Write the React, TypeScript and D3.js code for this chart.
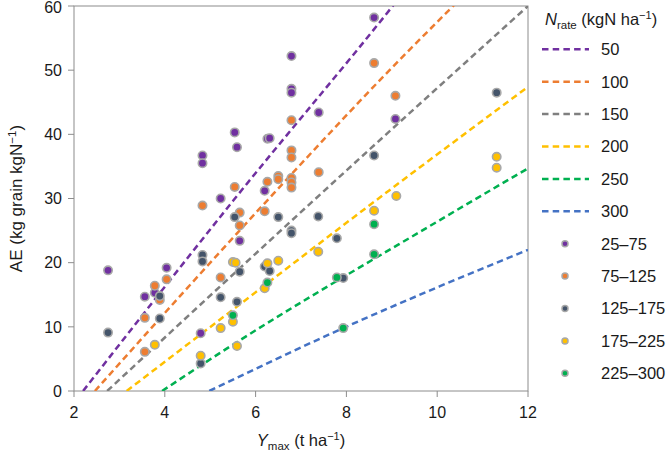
import { useEffect } from 'react'
import * as d3 from 'd3'

// dashed response lines, one per N rate (kgN/ha): [Ymax, AE]
const lineRates = ['50', '100', '150', '200', '250', '300']
const lineColors = ['#7030A0', '#ED7D31', '#7F7F7F', '#FFC000', '#00B050', '#4472C4']
const line50: [number, number][] = [[2.2, 0], [5.5, 29.6], [9.02, 60], [9.3, 62.5]]
const line100: [number, number][] = [[2.46, 0], [6.27, 29.8], [9.17, 51.6], [10.35, 60], [10.6, 61.8]]
const line150: [number, number][] = [[2.73, 0], [6.97, 27.7], [12, 60]]
const line200: [number, number][] = [[3.16, 0], [5.21, 11.1], [8.95, 31.3], [12, 47.4]]
const line250: [number, number][] = [[3.94, 0], [5.21, 5.9], [10.05, 26.6], [12, 34.7]]
const line300: [number, number][] = [[4.98, 0], [7.93, 9.8], [10.05, 16.3], [12, 22.0]]
const lineData = [line50, line100, line150, line200, line250, line300]

// observed sites grouped by N rate class
const pointClasses = ['25–75', '75–125', '125–175', '175–225', '225–300']
const pointColors = ['#7030A0', '#ED7D31', '#44546A', '#FFC000', '#00B050']
const pts25: [number, number][] = [
  [8.61, 58.2], [6.79, 52.2], [6.79, 47.1], [6.79, 46.5], [9.08, 42.4], [7.39, 43.4],
  [5.54, 40.3], [5.59, 38.0], [6.26, 39.3], [6.31, 39.4], [4.83, 36.7], [4.83, 35.5],
  [5.23, 30.0], [6.2, 31.2], [5.65, 23.4], [2.75, 18.8], [4.04, 19.2], [3.56, 14.7],
  [3.78, 15.3], [4.79, 9.0],
]
const pts75: [number, number][] = [
  [8.61, 51.1], [9.08, 46.0], [6.79, 42.2], [6.79, 37.5], [6.79, 36.4], [7.39, 34.1],
  [6.5, 33.5], [6.5, 33.0], [6.26, 32.6], [6.79, 33.2], [6.79, 32.5], [6.79, 31.7],
  [5.54, 31.8], [4.83, 28.9], [5.65, 27.8], [6.2, 28.0], [5.65, 25.8], [5.23, 17.7],
  [4.04, 17.4], [3.78, 16.4], [3.89, 14.2], [3.56, 11.4], [3.56, 6.1],
]
const pts125: [number, number][] = [
  [11.31, 46.5], [8.61, 36.7], [5.54, 27.1], [6.5, 27.1], [7.38, 27.2], [6.79, 25.0],
  [6.79, 24.6], [7.79, 23.8], [4.83, 21.2], [4.83, 20.2], [5.65, 18.6], [6.2, 19.4],
  [6.31, 18.7], [7.93, 17.6], [5.23, 14.6], [5.59, 13.9], [3.89, 14.8], [3.89, 11.3],
  [2.75, 9.1], [4.79, 4.3],
]
const pts175: [number, number][] = [
  [11.31, 36.5], [11.31, 34.8], [9.1, 30.4], [8.61, 28.1], [7.38, 21.7], [5.5, 20.1],
  [5.56, 20.0], [6.26, 19.9], [6.5, 20.3], [6.2, 16.0], [5.5, 10.8], [5.23, 9.8],
  [3.78, 7.2], [5.59, 7.0], [4.79, 5.5],
]
const pts225: [number, number][] = [
  [8.61, 26.0], [8.61, 21.3], [7.79, 17.7], [6.26, 16.9], [5.5, 11.8], [7.93, 9.8],
]
const pointData = [pts25, pts75, pts125, pts175, pts225]

const xTicks = [2, 4, 6, 8, 10, 12]
const yTicks = [0, 10, 20, 30, 40, 50, 60]

const W = 668
const H = 454
const FONT = '"Liberation Sans", Arial, Helvetica, sans-serif'
const AXIS = '#8c8c8c'
const INK = '#1a1a1a'

export default function App() {
  useEffect(() => {
    document.body.style.margin = '0'
  }, [])

  const x = d3.scaleLinear().domain([2, 12]).range([74, 528])
  const y = d3.scaleLinear().domain([0, 60]).range([391, 6])
  const [x0, x1] = x.range()
  const [y0, y1] = y.range()

  const path = d3.line<[number, number]>()
    .x(d => x(d[0]))
    .y(d => y(d[1]))
    .curve(d3.curveMonotoneX)

  const legendY = (i: number) => 49.3 + i * 32.4
  const legX = 542

  return (
    <svg width={W} height={H} style={{ display: 'block', fontFamily: FONT }}>
      <defs>
        <clipPath id="plot">
          <rect x={x0} y={y1} width={x1 - x0} height={y0 - y1} />
        </clipPath>
      </defs>

      {/* frame */}
      <rect x={x0} y={y1} width={x1 - x0} height={y0 - y1} fill="none" stroke={AXIS} strokeWidth={1} />

      {/* y axis */}
      {yTicks.map(t => (
        <g key={'y' + t}>
          <line x1={x0 - 6} x2={x0} y1={y(t)} y2={y(t)} stroke={AXIS} />
          <text x={x0 - 12} y={Math.max(y(t), 7)} dy="0.36em" textAnchor="end" fontSize={16} fill={INK}>{t}</text>
        </g>
      ))}

      {/* x axis */}
      {xTicks.map(t => (
        <g key={'x' + t}>
          <line x1={x(t)} x2={x(t)} y1={y0} y2={y0 + 6} stroke={AXIS} />
          <text x={x(t)} y={y0 + 27} textAnchor="middle" fontSize={16} fill={INK}>{t}</text>
        </g>
      ))}

      {/* dashed lines */}
      <g clipPath="url(#plot)">
        {lineData.map((d, i) => (
          <path key={lineRates[i]} d={path(d) ?? ''} fill="none" stroke={lineColors[i]}
            strokeWidth={2.5} strokeDasharray="6.5,4" />
        ))}
      </g>

      {/* points */}
      {pointData.map((pts, i) => (
        <g key={pointClasses[i]}>
          {pts.map((p, j) => (
            <circle key={j} cx={x(p[0])} cy={y(p[1])} r={4.2} fill={pointColors[i]}
              stroke="#a8a8a8" strokeWidth={1.6} />
          ))}
        </g>
      ))}

      {/* axis titles */}
      <text x={(x0 + x1) / 2} y={446} textAnchor="middle" fontSize={16.5} fill={INK}>
        <tspan fontStyle="italic">Y</tspan>
        <tspan fontSize={11.5} dy={4}>max</tspan>
        <tspan dy={-4}> (t ha</tspan>
        <tspan fontSize={11} dy={-6}>−1</tspan>
        <tspan dy={6}>)</tspan>
      </text>
      <text transform={`translate(22,${(y0 + y1) / 2}) rotate(-90)`} textAnchor="middle" fontSize={17} fill={INK}>
        AE (kg grain kgN
        <tspan fontSize={11.5} dy={-6}>−1</tspan>
        <tspan dy={6}>)</tspan>
      </text>

      {/* legend */}
      <text x={545} y={25} fontSize={16.5} fill={INK}>
        <tspan fontStyle="italic">N</tspan>
        <tspan fontSize={11.5} dy={4}>rate</tspan>
        <tspan dy={-4}> (kgN ha</tspan>
        <tspan fontSize={11} dy={-6}>−1</tspan>
        <tspan dy={6}>)</tspan>
      </text>
      {lineRates.map((r, i) => (
        <g key={'l' + r}>
          <line x1={legX} x2={legX + 47} y1={legendY(i)} y2={legendY(i)} stroke={lineColors[i]}
            strokeWidth={2.5} strokeDasharray="6.5,4.2" />
          <text x={601} y={legendY(i)} dy="0.36em" fontSize={16.5} fill={INK}>{r}</text>
        </g>
      ))}
      {pointClasses.map((c, i) => (
        <g key={'p' + c}>
          <circle cx={565} cy={legendY(i + 6)} r={3} fill={pointColors[i]} stroke="#a8a8a8" strokeWidth={1.5} />
          <text x={601} y={legendY(i + 6)} dy="0.36em" fontSize={16.5} fill={INK}>{c}</text>
        </g>
      ))}
    </svg>
  )
}
